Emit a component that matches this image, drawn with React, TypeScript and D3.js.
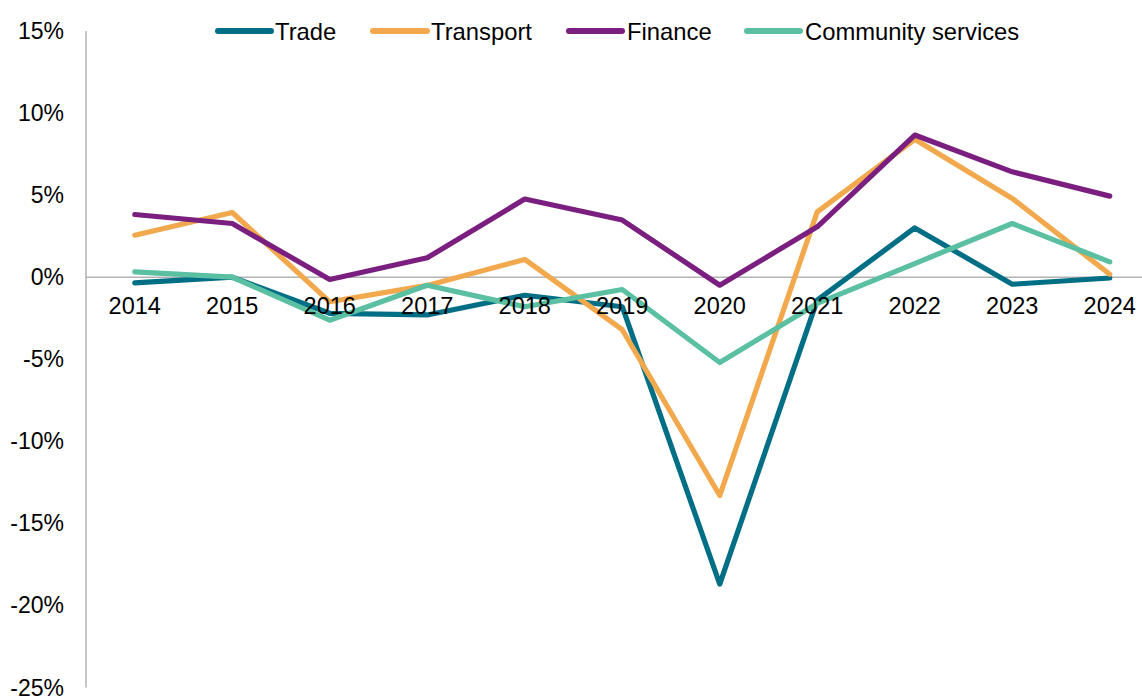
import React from "react";
import * as d3 from "d3";

const years = ["2014", "2015", "2016", "2017", "2018", "2019", "2020", "2021", "2022", "2023", "2024"];
const trade = [-0.35, 0.0, -2.2, -2.3, -1.1, -1.8, -18.7, -1.4, 3.0, -0.43, -0.05];
const transport = [2.56, 3.94, -1.5, -0.5, 1.08, -3.2, -13.3, 3.98, 8.4, 4.8, 0.18];
const finance = [3.82, 3.27, -0.14, 1.18, 4.76, 3.48, -0.49, 3.07, 8.66, 6.42, 4.94];
const community = [0.32, 0.0, -2.62, -0.49, -1.8, -0.75, -5.2, -1.6, 0.83, 3.27, 0.93];
const yTicks = [15, 10, 5, 0, -5, -10, -15, -20, -25];

const seriesNames = ["Trade", "Transport", "Finance", "Community services"];
const seriesColors = ["#006f86", "#f2a84c", "#7a1f7f", "#5bbfa1"];
const seriesValues = [trade, transport, finance, community];

const W = 1142;
const H = 696;
const FONT = "'Liberation Sans', Arial, sans-serif";

export default function App() {
  const x = d3.scaleBand<string>().domain(years).range([86, 1158.5]);
  const y = d3.scaleLinear().domain([-25, 15]).range([687.5, 31]);
  const cx = (yr: string) => (x(yr) ?? 0) + x.bandwidth() / 2;

  const line = d3
    .line<number>()
    .x((_, i) => cx(years[i]))
    .y((v) => y(v));

  const legendItems = [
    { line: [218, 271], text: 275 },
    { line: [373, 427], text: 431 },
    { line: [569, 622], text: 627 },
    { line: [747, 800], text: 805 },
  ];

  return (
    <svg
      width={W}
      height={H}
      style={{ position: "absolute", left: 0, top: 0, background: "#fff" }}
      fontFamily={FONT}
    >
      {/* zero line and vertical axis */}
      <line x1={86} x2={W} y1={y(0)} y2={y(0)} stroke="#b3b3b3" strokeWidth={1.5} />
      <line x1={86} x2={86} y1={y(15)} y2={y(-25)} stroke="#b3b3b3" strokeWidth={1.5} />

      {/* y tick labels */}
      {yTicks.map((t) => (
        <text
          key={t}
          x={64}
          y={y(t)}
          textAnchor="end"
          dominantBaseline="central"
          fontSize={23}
          fill="#000"
        >
          {`${t}%`}
        </text>
      ))}

      {/* series lines */}
      {seriesValues.map((vals, i) => (
        <path
          key={seriesNames[i]}
          d={line(vals) ?? ""}
          fill="none"
          stroke={seriesColors[i]}
          strokeWidth={5.2}
          strokeLinejoin="round"
          strokeLinecap="round"
        />
      ))}

      {/* category labels */}
      {years.map((yr) => (
        <text
          key={yr}
          x={cx(yr)}
          y={306}
          textAnchor="middle"
          dominantBaseline="central"
          fontSize={23.5}
          fill="#000"
        >
          {yr}
        </text>
      ))}

      {/* legend */}
      {legendItems.map((it, i) => (
        <g key={seriesNames[i]}>
          <line
            x1={it.line[0]}
            x2={it.line[1]}
            y1={31}
            y2={31}
            stroke={seriesColors[i]}
            strokeWidth={6}
            strokeLinecap="round"
          />
          <text x={it.text} y={31} dominantBaseline="central" fontSize={23.8} fill="#000">
            {seriesNames[i]}
          </text>
        </g>
      ))}
    </svg>
  );
}
